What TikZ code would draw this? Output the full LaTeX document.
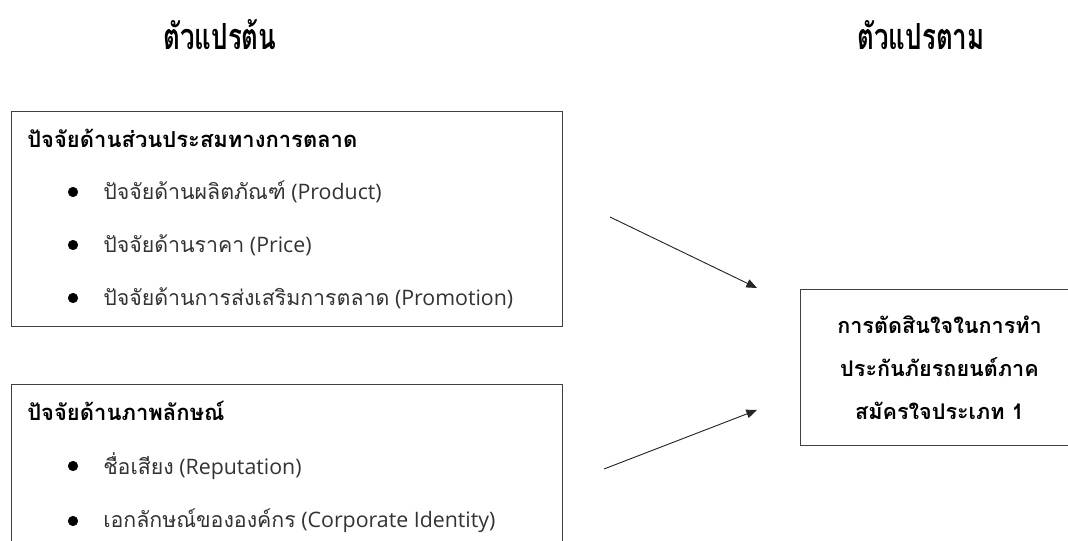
\documentclass[tikz,border=0pt]{standalone}
\usepackage{fontspec}
\setmainfont{Open Sans}
\newfontfamily\thaifont[Script=Thai]{Loma}
\newfontfamily\headfont[Script=Thai,FakeStretch=0.72]{Loma}
\usetikzlibrary{arrows.meta}

\tikzset{
	box/.style={draw=black!75, line width=0.8pt, inner sep=0pt, anchor=north west},
	grouptitle/.style={anchor=west, inner sep=0pt, font=\thaifont\bfseries\fontsize{16.5}{18}\selectfont},
	item/.style={anchor=west, inner sep=0pt, text=black!80, font=\fontsize{16}{18}\selectfont},
	heading/.style={inner sep=0pt, font=\headfont\bfseries\fontsize{27}{30}\selectfont},
	arrow/.style={-{Triangle[length=8pt,width=6.5pt]}, black!85, line width=0.7pt}
}

\begin{document}
\begin{tikzpicture}[x=0.75pt, y=-0.75pt]
		\useasboundingbox (0,0) rectangle (1068,541);
		\clip (0,0) rectangle (1068,541);

		% headings
		\node[heading] (indep) at (220,35) {ตัวแปรต้น};
		\node[heading] (dep) at (921,35) {ตัวแปรตาม};

		% marketing mix box
		\node[box, minimum width=413.25pt, minimum height=161.25pt] (mixbox) at (11,111) {};
		\node[grouptitle] (mixtitle) at (27,138) {ปัจจัยด้านส่วนประสมทางการตลาด};
		\filldraw[black]	(73,192) circle (3.6pt)
							(73,245) circle (3.6pt)
							(73,298) circle (3.6pt);
		\node[item] (product) at (103,192) {{\thaifont ปัจจัยด้านผลิตภัณฑ์} (Product)};
		\node[item] (price) at (103,245) {{\thaifont ปัจจัยด้านราคา} (Price)};
		\node[item] (promotion) at (103,298) {{\thaifont ปัจจัยด้านการส่งเสริมการตลาด} (Promotion)};

		% image box, runs past the bottom edge
		\node[box, minimum width=413.25pt, minimum height=150pt] (imagebox) at (11,384) {};
		\node[grouptitle] (imagetitle) at (27,411) {ปัจจัยด้านภาพลักษณ์};
		\filldraw[black]	(73,466) circle (3.6pt)
							(73,521) circle (3.6pt);
		\node[item] (reputation) at (103,466) {{\thaifont ชื่อเสียง} (Reputation)};
		\node[item] (identity) at (103,521) {{\thaifont เอกลักษณ์ขององค์กร} (Corporate Identity)};

		% decision box, runs past the right edge
		\node[box, minimum width=208.5pt, minimum height=117pt] (decbox) at (800,289) {};
		\node[align=center, inner sep=0pt, font=\thaifont\bfseries\fontsize{16.2}{32}\selectfont] (decision) at (decbox.center)
			{การตัดสินใจในการทำ\\ประกันภัยรถยนต์ภาค\\สมัครใจประเภท 1};

		% arrows
		\coordinate (mixtail) at (610,217);
		\coordinate (mixtip) at (757,288);
		\coordinate (imagetail) at (604,469);
		\coordinate (imagetip) at (757,410);
		\draw[arrow]	(mixtail) to (mixtip);
		\draw[arrow]	(imagetail) to (imagetip);
	\end{tikzpicture}
\end{document}
